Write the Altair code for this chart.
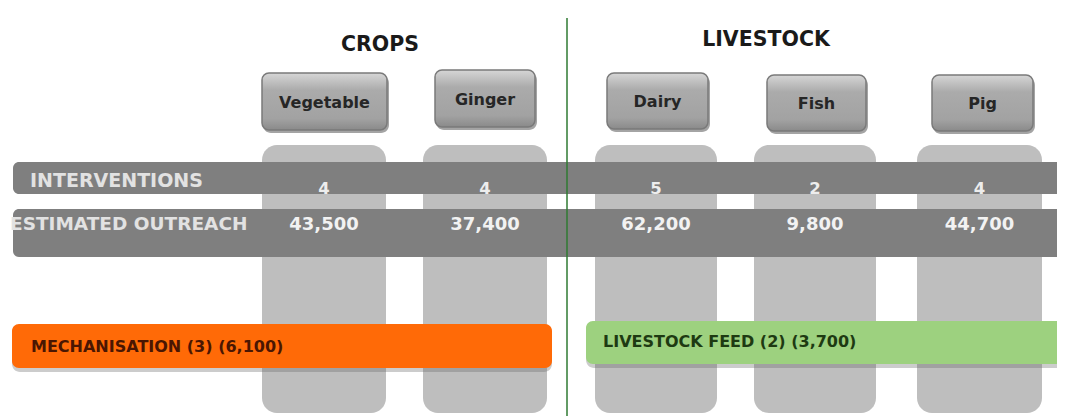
import altair as alt
import pandas as pd

# ---------------- data ----------------
categories = ["Vegetable", "Ginger", "Dairy", "Fish", "Pig"]
sectors = ["CROPS", "CROPS", "LIVESTOCK", "LIVESTOCK", "LIVESTOCK"]
interventions = [4, 4, 5, 2, 4]
outreach = [43500, 37400, 62200, 9800, 44700]
row_labels = ["INTERVENTIONS", "ESTIMATED OUTREACH"]
sector_titles = ["CROPS", "LIVESTOCK"]
cross_names = ["MECHANISATION", "LIVESTOCK FEED"]
cross_interventions = [3, 2]
cross_outreach = [6100, 3700]

# ---------------- layout (page pixel units) ----------------
col_x0 = [262, 423, 595, 754, 917]
col_x1 = [386, 547, 717, 876, 1042]
col_top, col_bottom = 145, 413
btn_x0 = [262, 435, 607, 767, 932]
btn_x1 = [387, 535, 708, 866, 1033]
btn_y0 = [73, 70, 73, 75, 75]
btn_y1 = [130, 127, 129, 131, 131]
band_y0 = [162, 209]
band_y1 = [194, 257]
band_text_x = [30, 10]
band_text_y = [181, 224]
band_text_size = [19, 18.5]
num_y = [189, 225]
title_x = [380, 766]
title_y = [45, 40]
cross_x0 = [12, 586]
cross_x1 = [552, 1080]
cross_y0 = [324, 321]
cross_y1 = [368, 364]
cross_text_x = [31, 603]
cross_text_y = [347, 342]
cross_fill = ["#FF6A07", "#9DD17F"]
cross_text_color = ["#4A1602", "#1E3A12"]
divider_x, divider_y0, divider_y1 = 567, 18, 420

FONT = "DejaVu Sans"
xs = alt.Scale(domain=[8, 1057], nice=False, zero=False)
ys = alt.Scale(domain=[8, 416], nice=False, zero=False, reverse=True)


def X(f):
    return alt.X(f, type="quantitative", scale=xs, axis=None)


def Y(f):
    return alt.Y(f, type="quantitative", scale=ys, axis=None)


cols = pd.DataFrame({
    "category": categories,
    "sector": sectors,
    "x0": col_x0, "x1": col_x1,
    "cx": [(a + b) / 2 for a, b in zip(col_x0, col_x1)],
    "y0": [col_top] * 5, "y1": [col_bottom] * 5,
    "interventions": [str(v) for v in interventions],
    "outreach": [f"{v:,}" for v in outreach],
    "iy": [num_y[0]] * 5, "oy": [num_y[1]] * 5,
})
btns = pd.DataFrame({
    "category": categories,
    "x0": btn_x0, "x1": btn_x1, "y0": btn_y0, "y1": btn_y1,
    "sx0": [v + 1 for v in btn_x0], "sx1": [v + 2 for v in btn_x1],
    "sy0": [v + 2 for v in btn_y0], "sy1": [v + 3 for v in btn_y1],
    "cx": [(a + b) / 2 for a, b in zip(btn_x0, btn_x1)],
    "cy": [(a + b) / 2 + 1 for a, b in zip(btn_y0, btn_y1)],
})
bands = pd.DataFrame({
    "label": row_labels,
    "x0": [13, 13], "x1": [1080, 1080],
    "y0": band_y0, "y1": band_y1,
    "tx": band_text_x, "ty": band_text_y, "size": band_text_size,
})
titles = pd.DataFrame({"title": sector_titles, "x": title_x, "y": title_y})
cross = pd.DataFrame({
    "label": [f"{n} ({i}) ({o:,})" for n, i, o in zip(cross_names, cross_interventions, cross_outreach)],
    "x0": cross_x0, "x1": cross_x1, "y0": cross_y0, "y1": cross_y1,
    "sy0": [v + 3 for v in cross_y0], "sy1": [v + 4 for v in cross_y1],
    "tx": cross_text_x, "ty": cross_text_y,
    "fill": cross_fill, "tcolor": cross_text_color,
})
divider = pd.DataFrame({"x": [divider_x], "y0": [divider_y0], "y1": [divider_y1]})

columns_layer = alt.Chart(cols).mark_rect(color="#BEBEBE", cornerRadius=15).encode(
    x=X("x0"), x2="x1", y=Y("y0"), y2="y1")

band_layer = alt.Chart(bands).mark_rect(
    color="#7F7F7F", cornerRadiusTopLeft=6, cornerRadiusBottomLeft=6, clip=True
).encode(x=X("x0"), x2="x1", y=Y("y0"), y2="y1")

band_text = alt.Chart(bands).mark_text(
    align="left", baseline="middle", font=FONT, fontWeight="bold", color="#E2E2E2"
).encode(x=X("tx"), y=Y("ty"), text="label:N",
         size=alt.Size("size:Q", scale=None, legend=None))

int_text = alt.Chart(cols).mark_text(
    align="center", baseline="middle", font=FONT, fontSize=16.5, fontWeight="bold", color="#EDEDED"
).encode(x=X("cx"), y=Y("iy"), text="interventions:N")

out_text = alt.Chart(cols).mark_text(
    align="center", baseline="middle", font=FONT, fontSize=18, fontWeight="bold", color="#F2F2F2"
).encode(x=X("cx"), y=Y("oy"), text="outreach:N")

cross_shadow = alt.Chart(cross).mark_rect(
    color="#6E6E6E", opacity=0.35, cornerRadius=8, clip=True
).encode(x=X("x0"), x2="x1", y=Y("sy0"), y2="sy1")

cross_layer = alt.Chart(cross).mark_rect(cornerRadius=7, clip=True).encode(
    x=X("x0"), x2="x1", y=Y("y0"), y2="y1",
    color=alt.Color("fill:N", scale=None))

cross_text = alt.Chart(cross).mark_text(
    align="left", baseline="middle", font=FONT, fontSize=16, fontWeight="bold"
).encode(x=X("tx"), y=Y("ty"), text="label:N", color=alt.Color("tcolor:N", scale=None))

btn_shadow = alt.Chart(btns).mark_rect(color="#5A5A5A", opacity=0.55, cornerRadius=8).encode(
    x=X("sx0"), x2="sx1", y=Y("sy0"), y2="sy1")

grad = alt.Gradient(
    gradient="linear",
    stops=[
        alt.GradientStop(color="#D6D6D6", offset=0),
        alt.GradientStop(color="#ABABAB", offset=0.3),
        alt.GradientStop(color="#A2A2A2", offset=0.8),
        alt.GradientStop(color="#8A8A8A", offset=1),
    ],
    x1=0, x2=0, y1=0, y2=1,
)
btn_layer = alt.Chart(btns).mark_rect(
    color=grad, cornerRadius=7, stroke="#7A7A7A", strokeWidth=1.5
).encode(x=X("x0"), x2="x1", y=Y("y0"), y2="y1")

btn_text = alt.Chart(btns).mark_text(
    align="center", baseline="middle", font=FONT, fontSize=16, fontWeight="bold", color="#262626"
).encode(x=X("cx"), y=Y("cy"), text="category:N")

title_text = alt.Chart(titles).mark_text(
    align="center", baseline="middle", font=FONT, fontSize=20.5, fontWeight="bold", color="#1A1A1A"
).encode(x=X("x"), y=Y("y"), text="title:N")

divider_layer = alt.Chart(divider).mark_rule(color="#2F7A32", strokeWidth=1.5, clip=True).encode(
    x=X("x"), y=Y("y0"), y2="y1")

chart = alt.layer(
    columns_layer, band_layer, band_text, int_text, out_text,
    cross_shadow, cross_layer, cross_text,
    btn_shadow, btn_layer, btn_text, title_text, divider_layer,
).properties(
    width=1049, height=408, padding=0,
    autosize=alt.AutoSizeParams(type="none"),
    background="white",
).configure_view(stroke=None)

chart.save("out.html", embed_options={"renderer": "svg", "actions": False})
